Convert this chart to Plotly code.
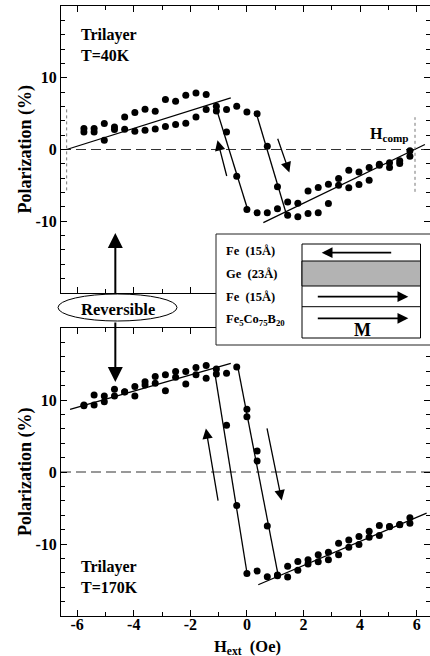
import plotly.graph_objects as go

# ---------------- data ----------------
field_grid = [-5.76, -5.40, -5.04, -4.68, -4.32, -3.96, -3.60, -3.24, -2.88, -2.52, -2.16,
              -1.80, -1.44, -1.08, -0.72, -0.36, 0.00, 0.36, 0.72, 1.08, 1.44, 1.80, 2.16,
              2.52, 2.88, 3.24, 3.60, 3.96, 4.32, 4.68, 5.04, 5.40, 5.76]

# Top panel, T = 40 K (two field-sweep branches)
top_branch1_pol = [2.45, 2.45, 1.30, 2.78, 2.83, 2.55, 2.69, 2.87, 3.20, 3.48, 3.66,
                   4.54, 5.57, 5.38, 2.45, -3.72, -8.36, -8.83, -8.83, -8.27, -9.15, -9.38,
                   -8.91, -8.83, -7.52, -4.97, -5.34, -4.87, -4.28, -2.20, -2.51, -1.95, -0.93]
top_branch2_pol = [2.92, 2.92, 3.62, 3.15, 4.54, 5.15, 5.61, 5.33, 6.96, 6.73, 7.56,
                   7.88, 7.66, 6.03, 5.57, 6.03, 5.24, 5.00, 0.46, -5.20, -7.30, -7.50,
                   -5.80, -5.30, -4.83, -4.04, -2.88, -3.12, -2.50, -2.05, -1.86, -1.58, -0.19]

# Bottom panel, T = 170 K
bot_branch1_pol = [9.20, 9.30, 9.76, 10.56, 11.10, 10.56, 12.09, 12.33, 11.30, 13.17, 12.23,
                   13.49, 13.03, 13.60, 6.50, -4.64, -14.10, -13.75, -14.55, -14.30, -14.60, -13.65,
                   -12.78, -12.45, -12.18, -11.48, -10.46, -10.08, -9.07, -8.83, -7.60, -7.30, -7.11]
bot_branch2_pol = [9.30, 10.70, 10.56, 11.50, 11.16, 11.86, 12.55, 13.25, 13.49, 13.95, 13.95,
                   14.50, 14.78, 14.30, 13.70, 14.60, 8.70, 2.93, -7.50, -14.40, -13.10, -12.43,
                   -12.20, -11.48, -11.16, -9.90, -9.43, -8.97, -8.23, -7.43, -7.57, -7.34, -6.36]
bot_extra_field = [0.00, 0.36]
bot_extra_pol = [7.67, 1.53]

# guide lines (field, polarization) drawn in the panels
top_fit_left = ([-6.37, -0.57], [0.0, 7.19])
top_fit_right = ([0.58, 6.29], [-10.2, 0.7])
top_jump_left = ([-1.12, 0.03], [6.2, -8.4])
top_jump_right = ([0.32, 1.40], [5.2, -9.1])
top_hcomp_left = ([-6.37, -6.37], [-5.7, 6.0])
top_hcomp_right = ([5.94, 5.94], [-5.9, 4.5])
top_arrow_up = ((-0.70, -3.9), (-1.04, 1.3))     # (tail, tip)
top_arrow_down = ((1.07, 1.7), (1.50, -3.2))

bot_fit_left = ([-6.25, -0.57], [8.7, 15.1])
bot_fit_right = ([0.40, 6.35], [-15.66, -5.72])
bot_jump_left = ([-1.16, 0.01], [14.4, -14.2])
bot_jump_right = ([-0.33, 1.10], [14.74, -14.27])
bot_arrow_up = ((-1.01, -4.18), (-1.45, 6.05))
bot_arrow_down = ((0.70, 6.28), (1.23, -3.95))

x_ticks = [-6, -4, -2, 0, 2, 4, 6]
x_ticklabels = ["-6", "-4", "-2", "0", "2", "4", "6"]
y_ticks = [-10, 0, 10]
y_ticklabels = ["-10", "0", "10"]
reversible_field = -4.65

# ---------------- layout geometry ----------------
W, H = 430, 656
L, R, T, B = 61, 0, 6, 40
PW, PH = W - L - R, H - T - B


def paper_x(px):
    return (px - L) / PW


def paper_y(py):
    return (H - B - py) / PH


FONT = "Liberation Serif, Times New Roman, serif"
fig = go.Figure()

mk = dict(size=7, color="black")
ln = dict(color="black", width=1.3)

# top panel traces
fig.add_trace(go.Scatter(x=field_grid, y=top_branch1_pol, mode="markers", marker=mk,
                         xaxis="x2", yaxis="y2", showlegend=False))
fig.add_trace(go.Scatter(x=field_grid, y=top_branch2_pol, mode="markers", marker=mk,
                         xaxis="x2", yaxis="y2", showlegend=False))
for seg in (top_fit_left, top_fit_right, top_jump_left, top_jump_right):
    fig.add_trace(go.Scatter(x=seg[0], y=seg[1], mode="lines", line=ln,
                             xaxis="x2", yaxis="y2", showlegend=False))
for seg in (top_hcomp_left, top_hcomp_right):
    fig.add_trace(go.Scatter(x=seg[0], y=seg[1], mode="lines",
                             line=dict(color="#777", width=1, dash="dot"),
                             xaxis="x2", yaxis="y2", showlegend=False))

# bottom panel traces
fig.add_trace(go.Scatter(x=field_grid, y=bot_branch1_pol, mode="markers", marker=mk,
                         xaxis="x", yaxis="y", showlegend=False))
fig.add_trace(go.Scatter(x=field_grid, y=bot_branch2_pol, mode="markers", marker=mk,
                         xaxis="x", yaxis="y", showlegend=False))
fig.add_trace(go.Scatter(x=bot_extra_field, y=bot_extra_pol, mode="markers", marker=mk,
                         xaxis="x", yaxis="y", showlegend=False))
for seg in (bot_fit_left, bot_fit_right, bot_jump_left, bot_jump_right):
    fig.add_trace(go.Scatter(x=seg[0], y=seg[1], mode="lines", line=ln,
                             xaxis="x", yaxis="y", showlegend=False))

annotations = []


def data_arrow(arrow, xr, yr):
    (tx, ty), (hx, hy) = arrow
    annotations.append(dict(x=hx, y=hy, ax=tx, ay=ty, xref=xr, yref=yr, axref=xr, ayref=yr,
                            text="", showarrow=True, arrowhead=2, arrowsize=1.6,
                            arrowwidth=1.3, arrowcolor="black"))


data_arrow(top_arrow_up, "x2", "y2")
data_arrow(top_arrow_down, "x2", "y2")
data_arrow(bot_arrow_up, "x", "y")
data_arrow(bot_arrow_down, "x", "y")

# big "Reversible" arrows
annotations.append(dict(x=reversible_field, y=paper_y(233), xref="x", yref="paper", ax=0, ay=62,
                        text="", showarrow=True, arrowhead=2, arrowsize=1.5, arrowwidth=2,
                        arrowcolor="black"))
annotations.append(dict(x=reversible_field, y=paper_y(382), xref="x", yref="paper", ax=0, ay=-61,
                        text="", showarrow=True, arrowhead=2, arrowsize=1.5, arrowwidth=2,
                        arrowcolor="black"))


def txt(s, px, py, size=16, xanchor="left", **kw):
    annotations.append(dict(text=s, x=paper_x(px), y=paper_y(py), xref="paper", yref="paper",
                            showarrow=False, xanchor=xanchor, yanchor="middle",
                            font=dict(family=FONT, size=size, color="black", weight="bold"), **kw))


txt("Trilayer", 79, 35)
txt("T=40K", 79, 55)
txt("Trilayer", 79, 567)
txt("T=170K", 79, 587)
txt("H<sub>comp</sub>", 411, 134, size=16, xanchor="right")
txt("Reversible", 118, 309, size=16.5, xanchor="center")

# y titles
for yc in (149.5, 472):
    txt("Polarization (%)", 25, yc, size=18, xanchor="center", textangle=-90)
# x title
txt("H<sub>ext</sub>  (Oe)", 247, 646.5, size=16.5, xanchor="center")

# inset texts
txt("Fe  (15Å)", 224, 251, size=12.5)
txt("Ge  (23Å)", 224, 274, size=12.5)
txt("Fe  (15Å)", 224, 297, size=12.5)
txt("Fe<sub>5</sub>Co<sub>75</sub>B<sub>20</sub>", 224, 320, size=12.5)
txt("M", 362, 330, size=18, xanchor="center")

# inset arrows (paper position + pixel tail offset)
for tip_px, py, off in ((321.7, 252.7, 71), (408.3, 296.7, -92), (408.3, 318.3, -92)):
    annotations.append(dict(x=paper_x(tip_px), y=paper_y(py), xref="paper", yref="paper",
                            ax=off, ay=0, text="", showarrow=True, arrowhead=2, arrowsize=1.2,
                            arrowwidth=1.8, arrowcolor="black"))

shapes = []
# zero dashed lines
for yr in ("y", "y2"):
    shapes.append(dict(type="line", xref="paper", x0=0, x1=1, yref=yr, y0=0, y1=0,
                       line=dict(color="#333", width=1.2, dash="10px,5px"), layer="below"))
# ellipse
shapes.append(dict(type="circle", xref="paper", yref="paper", x0=paper_x(58), x1=paper_x(177),
                   y0=paper_y(321), y1=paper_y(294), fillcolor="white",
                   line=dict(color="black", width=1), layer="above"))
# inset outer box
shapes.append(dict(type="rect", xref="paper", yref="paper", x0=paper_x(216), x1=paper_x(433),
                   y0=paper_y(345), y1=paper_y(234), fillcolor="white",
                   line=dict(color="#222", width=1), layer="above"))
# layer stack
shapes.append(dict(type="rect", xref="paper", yref="paper", x0=paper_x(302), x1=paper_x(420.5),
                   y0=paper_y(338), y1=paper_y(244), fillcolor="white",
                   line=dict(color="black", width=1), layer="above"))
shapes.append(dict(type="rect", xref="paper", yref="paper", x0=paper_x(302), x1=paper_x(420.5),
                   y0=paper_y(286), y1=paper_y(261), fillcolor="#b3b3b3",
                   line=dict(color="black", width=1), layer="above"))
shapes.append(dict(type="line", xref="paper", yref="paper", x0=paper_x(302), x1=paper_x(420.5),
                   y0=paper_y(306.7), y1=paper_y(306.7), line=dict(color="black", width=1),
                   layer="above"))

tickfont = dict(family=FONT, size=16, color="black", weight="bold")
xcommon = dict(range=[-6.57, 6.47], showline=True, linecolor="black", linewidth=1, mirror="ticks",
               ticks="inside", ticklen=6, tickcolor="black", tickwidth=1,
               tickmode="array", tickvals=x_ticks, ticktext=x_ticklabels,
               minor=dict(dtick=1, tick0=0, ticks="inside", ticklen=4, tickcolor="black"),
               showgrid=False, zeroline=False, tickfont=tickfont, ticklabelstandoff=-6)
ycommon = dict(range=[-20, 20], showline=True, linecolor="black", linewidth=1, mirror="ticks",
               ticks="inside", ticklen=6, tickcolor="black", tickwidth=1,
               tickmode="array", tickvals=y_ticks, ticktext=y_ticklabels,
               minor=dict(dtick=2, tick0=0, ticks="inside", ticklen=4, tickcolor="black"),
               showgrid=False, zeroline=False, tickfont=tickfont)

fig.update_layout(
    width=W, height=H, margin=dict(l=L, r=R, t=T, b=B),
    paper_bgcolor="white", plot_bgcolor="white", showlegend=False,
    font=dict(family=FONT, color="black"),
    xaxis=dict(xcommon, domain=[0, 1], anchor="y"),
    yaxis=dict(ycommon, domain=[0, paper_y(328)], anchor="x"),
    xaxis2=dict(xcommon, domain=[0, 1], anchor="y2", showticklabels=False),
    yaxis2=dict(ycommon, domain=[paper_y(293), 1], anchor="x2"),
    annotations=annotations, shapes=shapes,
)

fig.write_html("out.html", config={"displayModeBar": False},
               post_script="document.body.style.margin='0px';document.body.style.overflow='hidden';")
